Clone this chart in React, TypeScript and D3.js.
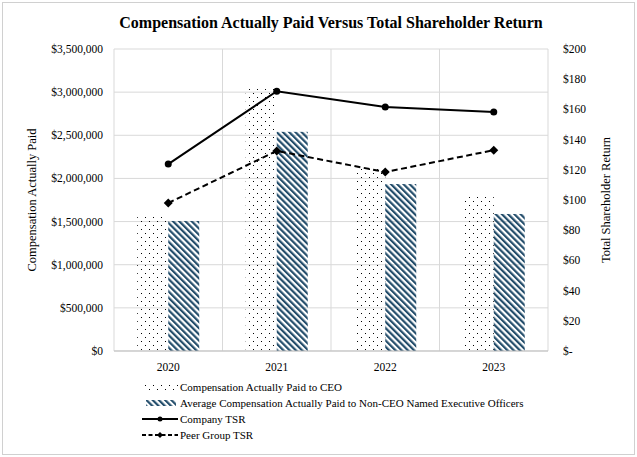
import React from "react";
import * as d3 from "d3";

const years = ["2020", "2021", "2022", "2023"];
const ceoCap = [1553000, 3036000, 2120000, 1785000];
const neoCap = [1507000, 2540000, 1935000, 1588000];
const companyTsr = [123.8, 172, 161.6, 158.3];
const peerTsr = [98, 132.5, 118.5, 133];
const leftTicks = [0, 500000, 1000000, 1500000, 2000000, 2500000, 3000000, 3500000];
const rightTicks = [0, 20, 40, 60, 80, 100, 120, 140, 160, 180, 200];
const legendLabels = [
  "Compensation Actually Paid to CEO",
  "Average Compensation Actually Paid to Non-CEO Named Executive Officers",
  "Company TSR",
  "Peer Group TSR",
];

const W = 637, H = 457;
const M = { left: 114, right: 548, top: 49, bottom: 351 };
const FONT = "Liberation Serif";
const NAVY = "#234d6b";

export default function App() {
  const x = d3.scaleBand<string>().domain(years).range([M.left, M.right]).paddingInner(0).paddingOuter(0);
  const yL = d3.scaleLinear().domain([0, 3500000]).range([M.bottom, M.top]);
  const yR = d3.scaleLinear().domain([0, 200]).range([M.bottom, M.top]);
  const barW = 31;
  const fmtL = (v: number) => "$" + d3.format(",")(v);
  const fmtR = (v: number) => (v === 0 ? "$-" : "$" + v);
  const cx = (y: string) => (x(y) as number) + x.bandwidth() / 2;
  const line = (vals: number[]) =>
    d3.line<number>().x((_, i) => cx(years[i])).y((v) => yR(v))(vals) as string;

  const diamond = (px: number, py: number) => `M${px},${py - 4.5}L${px + 4.5},${py}L${px},${py + 4.5}L${px - 4.5},${py}Z`;

  return (
    <svg width={W} height={H} style={{ position: "absolute", left: 0, top: 0, background: "#fff", fontFamily: FONT }}>
      <defs>
        <pattern id="dots" patternUnits="userSpaceOnUse" width="8" height="8">
          <rect x="1" y="1" width="1" height="1" fill="#000" />
          <rect x="5" y="5" width="1" height="1" fill="#000" />
        </pattern>
        <pattern id="stripes" patternUnits="userSpaceOnUse" width="4.4" height="8" patternTransform="rotate(-45)">
          <rect x="0" y="0" width="2.2" height="8" fill={NAVY} />
        </pattern>
      </defs>
      <rect x="2.5" y="2.5" width={W - 5} height={H - 5} fill="#fff" stroke="#d0d0d0" />
      <text x={331} y={28} textAnchor="middle" fontSize="16" fontWeight="bold" fill="#000">
        Compensation Actually Paid Versus Total Shareholder Return
      </text>
      {leftTicks.map((t) => (
        <line key={"g" + t} x1={M.left} x2={M.right} y1={yL(t)} y2={yL(t)} stroke="#d9d9d9" />
      ))}
      {[...years.map((y) => x(y) as number), M.right].map((vx, i) => (
        <line key={"v" + i} x1={vx} x2={vx} y1={M.top} y2={M.bottom} stroke="#d9d9d9" />
      ))}
      {years.map((y, i) => (
        <g key={"b" + y}>
          <rect x={cx(y) - barW} y={yL(ceoCap[i])} width={barW} height={M.bottom - yL(ceoCap[i])} fill="url(#dots)" />
          <rect x={cx(y)} y={yL(neoCap[i])} width={barW} height={M.bottom - yL(neoCap[i])} fill="url(#stripes)" />
        </g>
      ))}
      <line x1={M.left} x2={M.right} y1={M.bottom} y2={M.bottom} stroke="#bfbfbf" />
      <path d={line(companyTsr)} fill="none" stroke="#000" strokeWidth="2" />
      {companyTsr.map((v, i) => (
        <circle key={"c" + i} cx={cx(years[i])} cy={yR(v)} r="3.5" fill="#000" />
      ))}
      <path d={line(peerTsr)} fill="none" stroke="#000" strokeWidth="2" strokeDasharray="6,3.5" />
      {peerTsr.map((v, i) => (
        <path key={"p" + i} d={diamond(cx(years[i]), yR(v))} fill="#000" />
      ))}
      {leftTicks.map((t) => (
        <text key={"l" + t} x={103} y={yL(t) + 4} textAnchor="end" fontSize="11.5" fill="#000">
          {fmtL(t)}
        </text>
      ))}
      {rightTicks.map((t) => (
        <text key={"r" + t} x={563} y={yR(t) + 4} textAnchor="start" fontSize="11.5" fill="#000">
          {fmtR(t)}
        </text>
      ))}
      {years.map((y) => (
        <text key={"x" + y} x={cx(y)} y={371} textAnchor="middle" fontSize="11.5" fill="#000">
          {y}
        </text>
      ))}
      <text transform={`translate(36,${(M.top + M.bottom) / 2}) rotate(-90)`} textAnchor="middle" fontSize="12.5" fill="#000">
        Compensation Actually Paid
      </text>
      <text transform={`translate(610,${(M.top + M.bottom) / 2}) rotate(-90)`} textAnchor="middle" fontSize="12.5" fill="#000">
        Total Shareholder Return
      </text>
      {legendLabels.map((lab, i) => {
        const ly = 387 + i * 16;
        return (
          <g key={"lg" + i}>
            {i === 0 && <rect x={142} y={ly - 3} width={36} height={6} fill="url(#dots)" />}
            {i === 1 && <rect x={146} y={ly - 3} width={30} height={6} fill="url(#stripes)" />}
            {i === 2 && (
              <g>
                <line x1={142} x2={178} y1={ly} y2={ly} stroke="#000" strokeWidth="2" />
                <circle cx={160} cy={ly} r="2.5" fill="#000" />
              </g>
            )}
            {i === 3 && (
              <g>
                <line x1={142} x2={178} y1={ly} y2={ly} stroke="#000" strokeWidth="2" strokeDasharray="4,2.5" />
                <path d={`M160,${ly - 3}L163,${ly}L160,${ly + 3}L157,${ly}Z`} fill="#000" />
              </g>
            )}
            <text x={180} y={ly + 4} fontSize="11" fill="#000">
              {lab}
            </text>
          </g>
        );
      })}
    </svg>
  );
}
